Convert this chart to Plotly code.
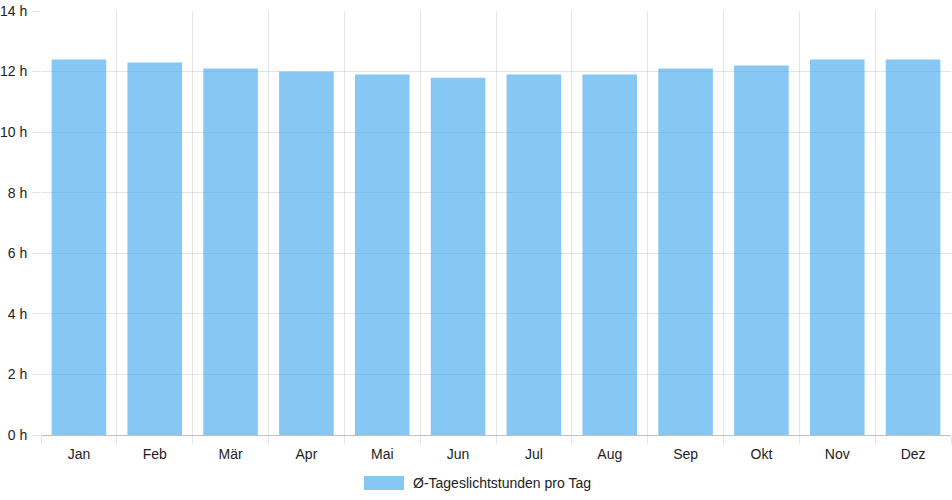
import plotly.graph_objects as go

months = ["Jan", "Feb", "Mär", "Apr", "Mai", "Jun", "Jul", "Aug", "Sep", "Okt", "Nov", "Dez"]
daylight_hours = [12.4, 12.3, 12.1, 12.0, 11.9, 11.8, 11.9, 11.9, 12.1, 12.2, 12.4, 12.4]
series_name = "Ø-Tageslichtstunden pro Tag"
y_ticks = [0, 2, 4, 6, 8, 10, 12, 14]
y_tick_labels = [f"{v} h" for v in y_ticks]

BAR_COLOR = "rgba(54,162,235,0.6)"
GRID = "rgba(0,0,0,0.1)"
FONT = dict(family="Liberation Sans, Arial, sans-serif", size=14, color="#222")

W, H = 952, 500
ML, MR, MT, MB = 41, 1, 11, 65

x_idx = list(range(len(months)))

fig = go.Figure()
fig.add_trace(go.Bar(
    x=x_idx, y=daylight_hours, name=series_name,
    marker=dict(color=BAR_COLOR, line=dict(width=0)),
    showlegend=False,
))

fig.update_layout(
    width=W, height=H,
    margin=dict(l=ML, r=MR, t=MT, b=MB, autoexpand=False),
    paper_bgcolor="white", plot_bgcolor="white",
    font=FONT,
    bargap=0.28,
    xaxis=dict(
        range=[-0.5, len(months) - 0.5],
        tickmode="array", tickvals=x_idx, ticktext=months,
        showgrid=False, ticks="", ticklen=0,
        showline=False, zeroline=False, automargin=False,
        minor=dict(tick0=-0.5, dtick=1, showgrid=True, gridcolor=GRID, gridwidth=1,
                   ticks="outside", ticklen=8, tickcolor=GRID),
        tickfont=FONT,
        ticklabelstandoff=9,
    ),
    yaxis=dict(
        range=[0, 14], tickmode="array", tickvals=y_ticks, ticktext=y_tick_labels,
        showgrid=True, gridcolor=GRID, gridwidth=1,
        ticks="outside", ticklen=8, tickcolor=GRID,
        zeroline=True, zerolinecolor="rgba(0,0,0,0.25)", zerolinewidth=1,
        showline=False, tickfont=FONT, ticklabelstandoff=2, automargin=False,
    ),
)

# Legend drawn like Chart.js (wide colour box + label), centred under the plot
plot_w = W - ML - MR
plot_h = H - MT - MB
bottom_px = MT + plot_h
box_x0 = (364 - ML) / plot_w
box_x1 = (404 - ML) / plot_w
box_top = -(476 - bottom_px) / plot_h
box_bot = -(490 - bottom_px) / plot_h
fig.add_shape(type="rect", xref="paper", yref="paper",
              x0=box_x0, x1=box_x1, y0=box_bot, y1=box_top,
              fillcolor=BAR_COLOR, line=dict(width=0))
fig.add_annotation(text=series_name, xref="paper", yref="paper",
                   x=(411 - ML) / plot_w, y=(box_top + box_bot) / 2,
                   xanchor="left", yanchor="middle", showarrow=False, font=FONT)

fig.write_html("out.html",
               config={"displayModeBar": False},
               post_script="document.body.style.margin='0';document.body.style.overflow='hidden';")
